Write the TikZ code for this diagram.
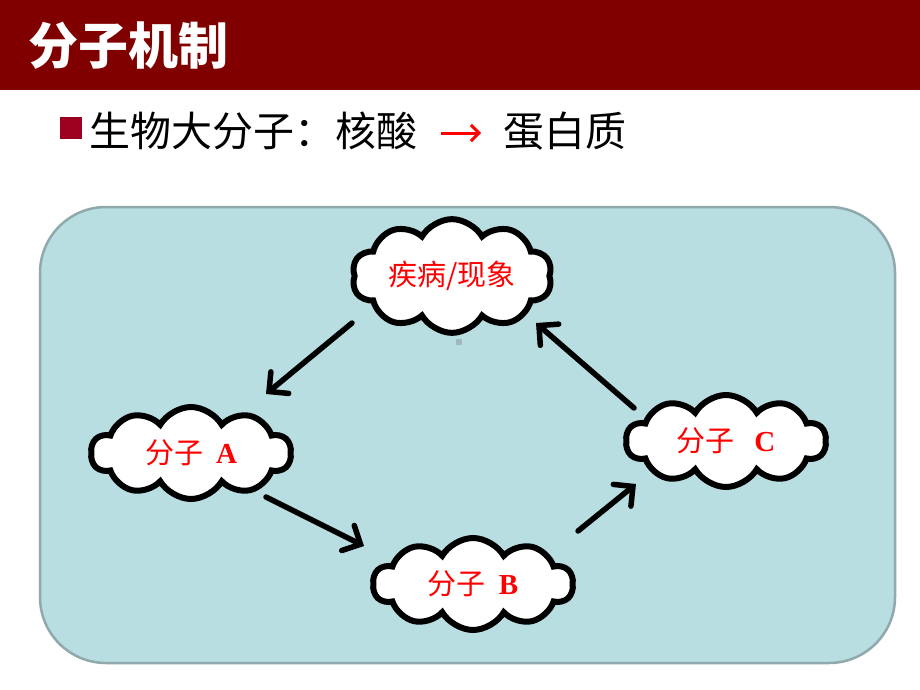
\documentclass[tikz,border=0pt]{standalone}
\usepackage{fontspec}
\setmainfont{Liberation Serif}
\newfontfamily\cjk{Noto Sans CJK SC}
\usetikzlibrary{shapes.symbols,arrows.meta}
\definecolor{titlered}{HTML}{800000}
\definecolor{bulletred}{HTML}{9E0020}
\definecolor{panelfill}{HTML}{B8DEE1}
\definecolor{paneldraw}{HTML}{8FA9AD}
\tikzset{
  cloudbox/.style={cloud, cloud puffs=10, cloud puff arc=120, aspect=2.1,
    draw=black, line width=6pt, fill=white, minimum width=200pt, minimum height=92pt,
    inner sep=0pt, text=red, font=\fontsize{29}{32}\selectfont},
  flow/.style={line width=5.5pt, line cap=round,
    -{Straight Barb[length=14pt, width=28pt, line width=5.5pt, line cap=round]}}
}
\begin{document}
\begin{tikzpicture}[x=1pt,y=-1pt]
\useasboundingbox (0,0) rectangle (920,690);
\fill[white] (0,0) rectangle (920,690);
% title bar
\fill[titlered] (0,0) rectangle (920,90);
\node[anchor=west, text=white, font=\cjk\bfseries\fontsize{50}{54}\selectfont, inner sep=0pt] (title) at (28,46) {分子机制};
% bullet line
\fill[bulletred] (60,117) rectangle (82,139);
\node[anchor=west, inner sep=0pt, font=\cjk\fontsize{41}{45}\selectfont] (bl) at (89,131) {生物大分子：核酸};
\coordinate (ra) at (441,133);
\coordinate (rb) at (481,133);
\draw[red, line width=3pt, -{Straight Barb[length=8pt, width=16pt, line width=3pt]}] (ra) -- (rb);
\node[anchor=west, inner sep=0pt, font=\cjk\fontsize{41}{45}\selectfont] (prot) at (503,131) {蛋白质};
% panel
\draw[paneldraw, fill=panelfill, line width=2.5pt, rounded corners=66pt] (40,207) rectangle (895,663);
\fill[gray!40!panelfill] (456,339) rectangle (462,345);
% clouds
\node[cloudbox] (top) at (452,276) {\cjk 疾病/现象};
\node[cloudbox] (A) at (191,453) {\cjk 分子\ \ \textbf{\rmfamily A}};
\node[cloudbox] (B) at (473,584) {\cjk 分子\ \ \textbf{\rmfamily B}};
\node[cloudbox] (C) at (726,441) {\cjk 分子\ \ \ \textbf{\rmfamily C}};
% connectors
\coordinate (t1) at (352,323);
\coordinate (a1) at (266,394);
\coordinate (a2) at (266,497);
\coordinate (b1) at (364,546);
\coordinate (b2) at (578,531);
\coordinate (c1) at (636,484);
\coordinate (c2) at (634,408);
\coordinate (t2) at (536,323);
\draw[flow] (t1) -- (a1);
\draw[flow] (a2) -- (b1);
\draw[flow] (b2) -- (c1);
\draw[flow] (c2) -- (t2);
\end{tikzpicture}
\end{document}
